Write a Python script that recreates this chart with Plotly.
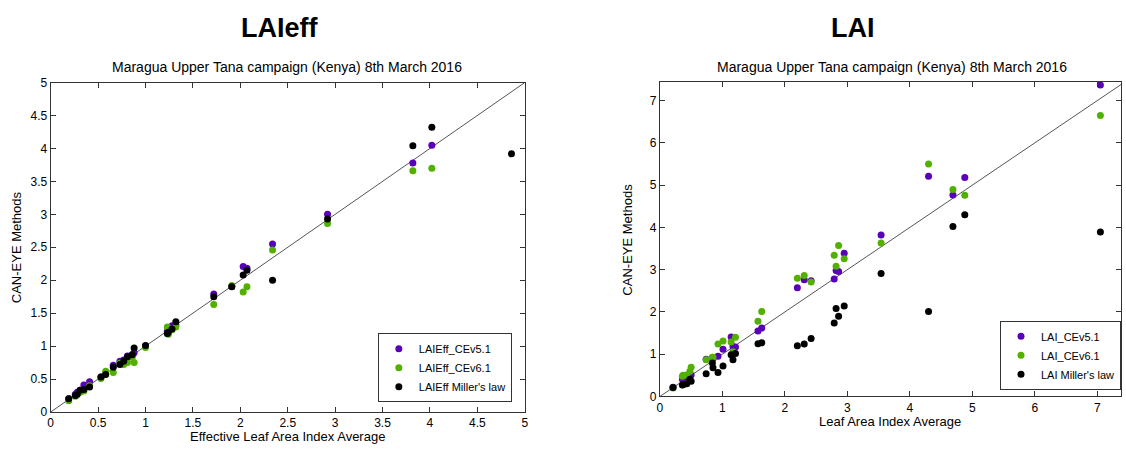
import plotly.graph_objects as go

# ---------------- LAIeff (left panel) ----------------
eff_x = [0.19, 0.26, 0.28, 0.31, 0.35, 0.41, 0.53, 0.58, 0.66, 0.73, 0.77, 0.81, 0.86, 0.88,
         1.00, 1.23, 1.24, 1.28, 1.32, 1.72, 1.91, 2.03, 2.07, 2.34, 2.92, 3.82, 4.02, 4.86]
eff_v51 = [0.20, 0.27, 0.30, 0.33, 0.41, 0.46, 0.53, 0.58, 0.71, 0.77, 0.79, 0.85, 0.87, 0.90,
           1.00, 1.22, 1.25, 1.31, 1.32, 1.79, 1.91, 2.21, 2.18, 2.55, 3.00, 3.78, 4.05, None]
eff_v61 = [0.17, 0.24, 0.27, 0.30, 0.32, 0.40, 0.51, 0.62, 0.60, 0.74, 0.72, 0.75, 0.83, 0.75,
           0.98, 1.29, 1.18, 1.25, 1.29, 1.63, 1.92, 1.82, 1.90, 2.46, 2.86, 3.66, 3.70, None]
eff_miller = [0.20, 0.25, 0.27, 0.33, 0.34, 0.38, 0.53, 0.57, 0.68, 0.72, 0.77, 0.84, 0.87, 0.97,
              1.01, 1.19, 1.21, 1.26, 1.37, 1.75, 1.90, 2.08, 2.15, 2.00, 2.93, 4.04, 4.32, 3.92]

# ---------------- LAI (right panel) ----------------
lai_x = [0.21, 0.36, 0.37, 0.43, 0.48, 0.50, 0.74, 0.84, 0.85, 0.93, 1.01, 1.14, 1.17, 1.21,
         1.57, 1.63, 2.20, 2.31, 2.42, 2.79, 2.82, 2.86, 2.95, 3.54, 4.30, 4.69, 4.88, 7.05]
lai_v51 = [0.22, 0.41, 0.45, 0.47, 0.50, 0.51, 0.88, 0.91, 0.90, 0.95, 1.12, 1.41, 1.18, 1.17,
           1.55, 1.62, 2.57, 2.76, 2.74, 2.78, 2.98, 2.96, 3.39, 3.82, 5.21, 4.77, 5.18, 7.37]
lai_v61 = [0.20, 0.48, 0.50, 0.51, 0.60, 0.69, 0.87, 0.93, 0.93, 1.24, 1.31, 1.29, 1.06, 1.40,
           1.78, 2.01, 2.80, 2.86, 2.71, 3.34, 3.08, 3.57, 3.26, 3.63, 5.50, 4.90, 4.76, 6.65]
lai_miller = [0.21, 0.27, 0.28, 0.30, 0.41, 0.36, 0.54, 0.79, 0.68, 0.57, 0.72, 0.99, 0.87, 1.02,
              1.25, 1.27, 1.20, 1.24, 1.37, 1.74, 2.08, 1.90, 2.14, 2.91, 2.01, 4.02, 4.30, 3.89]

eff_names = ["LAIEff_CEv5.1", "LAIEff_CEv6.1", "LAIEff Miller's law"]
lai_names = ["LAI_CEv5.1", "LAI_CEv6.1", "LAI Miller's law"]
colors = ["#5a00b8", "#52b000", "#000000"]

eff_ticks = [0, 0.5, 1, 1.5, 2, 2.5, 3, 3.5, 4, 4.5, 5]
lai_ticks = [0, 1, 2, 3, 4, 5, 6, 7]

FONT = "Liberation Sans, Arial, Helvetica, sans-serif"

fig = go.Figure()

# 1:1 lines
fig.add_trace(go.Scatter(x=[0, 5], y=[0, 5], mode="lines", line=dict(color="#555555", width=1),
                         showlegend=False, hoverinfo="skip", xaxis="x", yaxis="y"))
fig.add_trace(go.Scatter(x=[0, 7.4], y=[0, 7.4], mode="lines", line=dict(color="#555555", width=1),
                         showlegend=False, hoverinfo="skip", xaxis="x2", yaxis="y2"))

for ys, nm, c in zip([eff_v51, eff_v61, eff_miller], eff_names, colors):
    fig.add_trace(go.Scatter(x=eff_x, y=ys, mode="markers", name=nm,
                             marker=dict(color=c, size=7, line=dict(width=0)),
                             xaxis="x", yaxis="y", legend="legend"))
for ys, nm, c in zip([lai_v51, lai_v61, lai_miller], lai_names, colors):
    fig.add_trace(go.Scatter(x=lai_x, y=ys, mode="markers", name=nm,
                             marker=dict(color=c, size=7, line=dict(width=0)),
                             xaxis="x2", yaxis="y2", legend="legend2"))

axis_common = dict(showline=True, linecolor="#333333", linewidth=1, mirror="ticks",
                   ticks="inside", ticklen=5, tickcolor="#333333", showgrid=False,
                   zeroline=False, tickfont=dict(size=12, color="#000000", family=FONT))

fig.update_layout(
    width=1126, height=450,
    margin=dict(l=0, r=0, t=0, b=0),
    paper_bgcolor="white", plot_bgcolor="white",
    font=dict(family=FONT, color="#000000"),
    xaxis=dict(domain=[48 / 1126, 525 / 1126], range=[0, 5], tickvals=eff_ticks,
               ticktext=[f"{t:g}" for t in eff_ticks], anchor="y", **axis_common),
    yaxis=dict(domain=[1 - 418 / 450, 1 - 78 / 450], range=[0, 5], tickvals=eff_ticks,
               ticktext=[f"{t:g}" for t in eff_ticks], anchor="x", **axis_common),
    xaxis2=dict(domain=[661 / 1126, 1125 / 1126], range=[0, 7.38], tickvals=lai_ticks,
                anchor="y2", **axis_common),
    yaxis2=dict(domain=[1 - 402 / 450, 1 - 77 / 450], range=[0, 7.45], tickvals=lai_ticks,
                anchor="x2", **axis_common),
    legend=dict(x=512 / 1126, y=1 - 408 / 450, xanchor="right", yanchor="bottom",
                bordercolor="#333333", borderwidth=1, bgcolor="white",
                font=dict(size=11, family=FONT), tracegroupgap=0, itemwidth=30),
    legend2=dict(x=1125 / 1126, y=1 - 395 / 450, xanchor="right", yanchor="bottom",
                 bordercolor="#333333", borderwidth=1, bgcolor="white",
                 font=dict(size=11, family=FONT), tracegroupgap=0, itemwidth=30),
    showlegend=True,
)

ann = [
    dict(text="<b>LAIeff</b>", x=279, y=22, size=27),
    dict(text="<b>LAI</b>", x=855, y=22, size=27),
    dict(text="Maragua Upper Tana campaign (Kenya) 8th March 2016", x=286, y=62, size=14),
    dict(text="Maragua Upper Tana campaign (Kenya) 8th March 2016", x=895, y=62, size=14),
    dict(text="Effective Leaf Area Index Average", x=286, y=443, size=13),
    dict(text="Leaf Area Index Average", x=893, y=428, size=13),
]
for a in ann:
    fig.add_annotation(text=a["text"], x=a["x"] / 1126, y=1 - a["y"] / 450, xref="paper", yref="paper",
                       xanchor="center", yanchor="middle", showarrow=False,
                       font=dict(size=a["size"], family=FONT, color="#000000"))
for xx, yy in [(13, 248), (628, 240)]:
    fig.add_annotation(text="CAN-EYE Methods", x=xx / 1126, y=1 - yy / 450, xref="paper", yref="paper",
                       xanchor="center", yanchor="middle", showarrow=False, textangle=-90,
                       font=dict(size=13, family=FONT, color="#000000"))

fig.write_html("out.html")
